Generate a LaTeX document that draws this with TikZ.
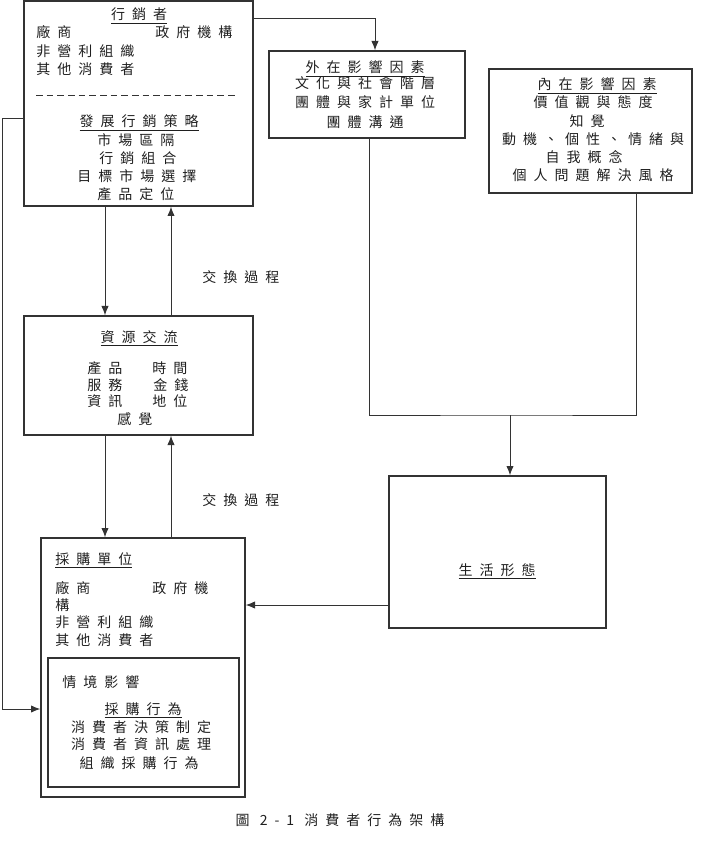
\documentclass[tikz,border=0pt]{standalone}
\usepackage{fontspec}
\newfontfamily\cjk[LetterSpace=50]{Noto Sans CJK TC}
\usetikzlibrary{arrows.meta,fit}
\definecolor{framegray}{HTML}{333333}
\definecolor{inkgray}{HTML}{1F1F1F}

\begin{document}
\begin{tikzpicture}[x=0.75pt,y=-0.75pt,font=\cjk\fontsize{10.5}{12}\selectfont,
  box/.style={draw=framegray,line width=1pt,inner sep=0pt},
  arr/.style={framegray,line width=0.7pt,-{Latex[length=7pt,width=5.5pt]}},
  link/.style={framegray,line width=0.7pt},
  txt/.style={inner sep=0pt,text=inkgray}]
\useasboundingbox (0,0) rectangle (705,862);
% marketers
\node[box,fit={(24,1) (253,206)}] (mkt) {};
\node[txt,anchor=base] (mktT) at (139,20) {\underline{行銷者}};
\node[txt,anchor=base west] (mkt1) at (36,38) {廠商};
\node[txt,anchor=base west] (mkt1b) at (155,38) {政府機構};
\node[txt,anchor=base west] (mkt2) at (36,57) {非營利組織};
\node[txt,anchor=base west] (mkt3) at (36,75) {其他消費者};
\draw[framegray,line width=0.6pt,dash pattern=on 5pt off 3pt] (36,95) -- (236,95);
\node[txt,anchor=base] (stratT) at (139,127) {\underline{發展行銷策略}};
\node[txt,anchor=base west] (strat1) at (97,146) {市場區隔};
\node[txt,anchor=base west] (strat2) at (99,164) {行銷組合};
\node[txt,anchor=base west] (strat3) at (77,182) {目標市場選擇};
\node[txt,anchor=base west] (strat4) at (97,200) {產品定位};
% external influences
\node[box,fit={(269,51) (465,138)}] (ext) {};
\node[txt,anchor=base] (extT) at (365,73) {\underline{外在影響因素}};
\node[txt,anchor=base] (ext1) at (365,89) {文化與社會階層};
\node[txt,anchor=base] (ext2) at (365,108) {團體與家計單位};
\node[txt,anchor=base] (ext3) at (365,128) {團體溝通};
% internal influences
\node[box,fit={(489,69) (692,193)}] (int) {};
\node[txt,anchor=base] (intT) at (597,90) {\underline{內在影響因素}};
\node[txt,anchor=base] (int1) at (593,108) {價值觀與態度};
\node[txt,anchor=base] (int2) at (587,127) {知覺};
\node[txt,anchor=base] (int3) at (593,145) {動機、個性、情緒與};
\node[txt,anchor=base] (int4) at (584,163) {自我概念};
\node[txt,anchor=base] (int5) at (593,181) {個人問題解決風格};
% resource exchange
\node[box,fit={(24,316) (253,435)}] (res) {};
\node[txt,anchor=base] (resT) at (139,342) {\underline{資源交流}};
\node[txt,anchor=base west] (res1) at (87,373) {產品};
\node[txt,anchor=base west] (res1b) at (152,373) {時間};
\node[txt,anchor=base west] (res2) at (87,390) {服務};
\node[txt,anchor=base west] (res2b) at (153,390) {金錢};
\node[txt,anchor=base west] (res3) at (87,406) {資訊};
\node[txt,anchor=base west] (res3b) at (152,406) {地位};
\node[txt,anchor=base west] (res4) at (117,424) {感覺};
\node[txt,anchor=base west] (swap1) at (202,283) {交換過程};
\node[txt,anchor=base west] (swap2) at (202,505) {交換過程};
% buying unit
\node[box,fit={(41,538) (245,797)}] (buy) {};
\node[txt,anchor=base west] (buyT) at (55,564) {\underline{採購單位}};
\node[txt,anchor=base west] (buy1) at (55,593) {廠商};
\node[txt,anchor=base west] (buy1b) at (152,593) {政府機};
\node[txt,anchor=base west] (buy1c) at (55,610) {構};
\node[txt,anchor=base west] (buy2) at (55,627) {非營利組織};
\node[txt,anchor=base west] (buy3) at (55,645) {其他消費者};
\node[box,fit={(48,658) (239,787)}] (sit) {};
\node[txt,anchor=base west] (sitT) at (62,687) {情境影響};
\node[txt,anchor=base] (act) at (143,714) {\underline{採購行為}};
\node[txt,anchor=base] (act1) at (141,732) {消費者決策制定};
\node[txt,anchor=base] (act2) at (141,749) {消費者資訊處理};
\node[txt,anchor=base] (act3) at (139,768) {組織採購行為};
% lifestyle
\node[box,fit={(389,476) (606,628)}] (life) {};
\node[txt,anchor=base] (lifeT) at (497,575) {\underline{生活形態}};
% caption
\node[txt,anchor=base] (cap) at (340,825) {圖 2-1 消費者行為架構};
% connectors
\draw[arr] (mkt.east |- 0,18) -| (ext.north -| 375,0);
\coordinate (join) at (510,415);
\draw[link] (ext.south -| 369,0) |- (join) -| (int.south -| 636,0);
\draw[arr] (join) -- (life.north -| join);
\draw[arr] (mkt.south -| 105,0) -- (res.north -| 105,0);
\draw[arr] (res.north -| 171,0) -- (mkt.south -| 171,0);
\draw[arr] (res.south -| 105,0) -- (buy.north -| 105,0);
\draw[arr] (buy.north -| 171,0) -- (res.south -| 171,0);
\draw[arr] (life.west |- 0,605) -- (buy.east |- 0,605);
\draw[arr] (mkt.west |- 0,118) -- (2,118) -- (2,709) -- (buy.west |- 0,709);
\end{tikzpicture}
\end{document}
